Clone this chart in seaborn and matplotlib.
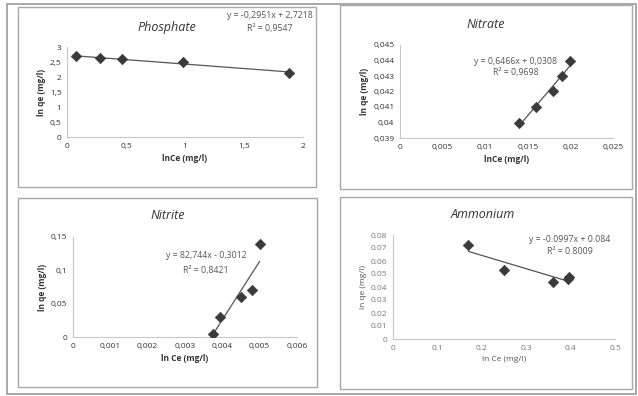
import matplotlib
matplotlib.use("Agg")
import matplotlib.pyplot as plt
import matplotlib.patches as mpatches
from matplotlib.ticker import FuncFormatter
import seaborn as sns
import pandas as pd

sns.set_theme(style="white")
plt.rcParams['font.family'] = ['Open Sans', 'DejaVu Sans']

# ---- data ----
phos_x = [0.08, 0.28, 0.47, 0.98, 1.88]
phos_y = [2.69, 2.62, 2.59, 2.50, 2.14]

nitra_x = [0.014, 0.016, 0.018, 0.019, 0.020]
nitra_y = [0.040, 0.041, 0.042, 0.043, 0.044]

nitri_x = [0.00375, 0.00395, 0.0045, 0.0048, 0.0050]
nitri_y = [0.005, 0.030, 0.060, 0.070, 0.140]

amm_x = [0.17, 0.25, 0.36, 0.395, 0.397]
amm_y = [0.072, 0.053, 0.044, 0.046, 0.048]

titles = ["Phosphate", "Nitrate", "Nitrite", "Ammonium"]
eq_lines = [("y = -0,2951x + 2,7218", "R² = 0,9547"),
            ("y = 0,6466x + 0,0308", "R² = 0,9698"),
            ("y = 82,744x - 0,3012", "R² = 0,8421"),
            ("y = -0.0997x + 0.084", "R² = 0.8009")]
xlabels = ["lnCe (mg/l)", "lnCe (mg/l)", "ln Ce (mg/l)", "ln Ce (mg/l)"]
ylabel = "ln qe (mg/l)"

phos_xticks = [0, 0.5, 1, 1.5, 2]
phos_yticks = [0, 0.5, 1, 1.5, 2, 2.5, 3]
nitra_xticks = [0, 0.005, 0.01, 0.015, 0.02, 0.025]
nitra_yticks = [0.039, 0.040, 0.041, 0.042, 0.043, 0.044, 0.045]
nitri_xticks = [0, 0.001, 0.002, 0.003, 0.004, 0.005, 0.006]
nitri_yticks = [0, 0.05, 0.1, 0.15]
amm_xticks = [0, 0.1, 0.2, 0.3, 0.4, 0.5]
amm_yticks = [0, 0.01, 0.02, 0.03, 0.04, 0.05, 0.06, 0.07, 0.08]

W, H = 638, 396
fig = plt.figure(figsize=(W / 100, H / 100), dpi=100)
fig.patch.set_facecolor("white")


def rect_px(x0, y0, x1, y1):
    return [x0 / W, 1 - y1 / H, (x1 - x0) / W, (y1 - y0) / H]


# outer frame and panel frames
frames = [(7, 4, 636, 394, "#9a9a9a", 1.2),
          (18, 7, 316, 187, "#a8a8a8", 1.0),
          (340, 5, 632, 189, "#a8a8a8", 1.0),
          (18, 198, 317, 387, "#a8a8a8", 1.0),
          (340, 197, 632, 389, "#a8a8a8", 1.0)]
for x0, y0, x1, y1, c, lw in frames:
    l, b, w, h = rect_px(x0, y0, x1, y1)
    fig.patches.append(mpatches.Rectangle((l, b), w, h, transform=fig.transFigure,
                                          fill=False, edgecolor=c, linewidth=lw))

def comma_fmt(v, pos):
    s = ("%.3f" % v).rstrip("0").rstrip(".")
    return s.replace(".", ",")

def dot_fmt(v, pos):
    s = ("%.2f" % v).rstrip("0").rstrip(".")
    return s

panels = [
    dict(x=phos_x, y=phos_y, box=(67, 47, 303, 137), xt=phos_xticks, yt=phos_yticks,
         fmt=comma_fmt, tick_color="#333333", title_y=27, title_x=167),
    dict(x=nitra_x, y=nitra_y, box=(400, 45, 613, 138), xt=nitra_xticks, yt=nitra_yticks,
         fmt=comma_fmt, tick_color="#333333", title_y=25, title_x=486),
    dict(x=nitri_x, y=nitri_y, box=(73, 237, 297, 337), xt=nitri_xticks, yt=nitri_yticks,
         fmt=comma_fmt, tick_color="#333333", title_y=216, title_x=168),
    dict(x=amm_x, y=amm_y, box=(393, 235, 615, 339), xt=amm_xticks, yt=amm_yticks,
         fmt=dot_fmt, tick_color="#777777", title_y=215, title_x=483),
]
# (center x, line1 y, line2 y) in pixels
eq_pos = [(270, 15, 29), (516, 62, 73), (206, 255, 270), (570, 240, 252)]

for i, p in enumerate(panels):
    x0, y0, x1, y1 = p["box"]
    ax = fig.add_axes(rect_px(x0, y0, x1, y1))
    df = pd.DataFrame({"x": p["x"], "y": p["y"]})
    sns.regplot(data=df, x="x", y="y", ax=ax, scatter=False, ci=None,
                line_kws=dict(color="#555555", lw=0.9))
    sns.scatterplot(data=df, x="x", y="y", ax=ax, marker="D", s=28,
                    color="#3a3a3a", edgecolor="#3a3a3a", linewidth=0.5, zorder=3)
    ax.set_xlim(p["xt"][0], p["xt"][-1])
    ax.set_ylim(p["yt"][0], p["yt"][-1])
    ax.set_xticks(p["xt"])
    ax.set_yticks(p["yt"])
    ax.xaxis.set_major_formatter(FuncFormatter(p["fmt"]))
    ax.yaxis.set_major_formatter(FuncFormatter(p["fmt"]))
    ax.tick_params(axis="both", labelsize=6, colors=p["tick_color"], length=0, pad=4)
    for s in ["top", "right"]:
        ax.spines[s].set_visible(False)
    for s in ["left", "bottom"]:
        ax.spines[s].set_color("#c8c8c8")
        ax.spines[s].set_linewidth(0.8)
    ax.set_facecolor("none")
    lab_w = "bold" if i < 3 else "normal"
    lab_c = "#333333" if i < 3 else "#555555"
    ax.set_xlabel(xlabels[i], fontsize=6, fontweight=lab_w, color=lab_c, labelpad=3)
    ax.set_ylabel(ylabel, fontsize=6, fontweight=lab_w, color=lab_c, labelpad=3)
    fig.text(p["title_x"] / W, 1 - p["title_y"] / H, titles[i], fontsize=9,
             style="italic", color="#333333", ha="center", va="center")
    ex, ey1, ey2 = eq_pos[i]
    fig.text(ex / W, 1 - ey1 / H, eq_lines[i][0], fontsize=6.3, color="#555555",
             ha="center", va="center")
    fig.text(ex / W, 1 - ey2 / H, eq_lines[i][1], fontsize=6.3, color="#555555",
             ha="center", va="center")

fig.savefig("out.png", dpi=100, facecolor="white")
